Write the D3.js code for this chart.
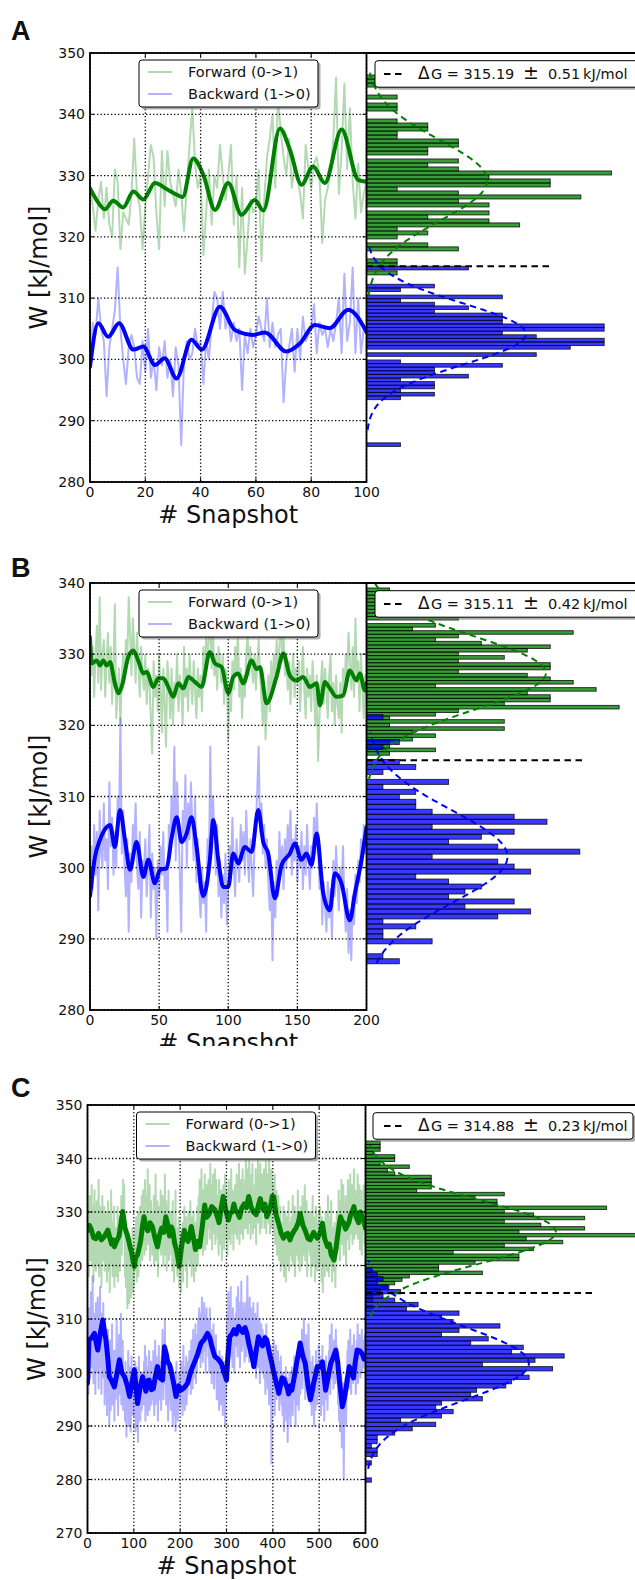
<!DOCTYPE html>
<html><head><meta charset="utf-8">
<script src="https://cdn.jsdelivr.net/npm/d3@7"></script>
<style>body{margin:0;background:#fff}svg{display:block}text{font-family:"DejaVu Sans",sans-serif;fill:#111}</style>
</head><body><svg id="c" width="635" height="1580"></svg>
<script>
// ---------- DATA ----------
const panelLetters = ["A","B","C"];
const dGValues = [315.19, 315.11, 314.88];
const dGText = ["315.19","315.11","314.88"];
const dGErr = ["0.51","0.42","0.23"];
const dGLineEnd = [0.0935, 0.0943, 0.081];   // density where the dashed ΔG line stops
const seriesNames = ["Forward (0->1)","Backward (1->0)"];

const xTicksA = [0,20,40,60,80,100];
const yTicksA = [280,290,300,310,320,330,340,350];
const xTicksB = [0,50,100,150,200];
const yTicksB = [280,290,300,310,320,330,340];
const xTicksC = [0,100,200,300,400,500,600];
const yTicksC = [270,280,290,300,310,320,330,340,350];

// raw work values, one per snapshot
const fwdA = [328,325,321,326,329,323,328,322,320,331, 329,318,324,323,322,327,336,327,325,318,
 325,330,335,333,324,318,334,325,334,329, 327,325,331,327,321,328,335,341,332,328,
 330,317,324,331,322,330,328,335,330,326, 330,335,322,330,315,328,314,320,326,324,
 325,331,316,326,333,336,340,328,343,337, 333,330,336,328,332,330,327,323,335,331,
 328,332,333,330,319,326,328,331,336,346, 327,334,345,331,341,329,323,332,324,327, 329];
const bwdA = [300,306,304,310,305,303,294,302,305,308, 315,305,300,296,302,304,302,297,296,303,
 298,305,297,300,295,302,299,303,297,300, 294,302,299,286,300,303,300,301,305,302,
 303,296,303,300,306,311,310,305,311,305, 307,303,306,303,305,295,304,301,305,302,
 304,307,305,303,310,302,306,302,304,305, 293,300,302,305,298,305,300,307,303,304,
 305,309,301,306,304,305,302,305,303,306, 310,301,314,303,306,315,301,310,301,305, 304];

const fwdB = [333,327,331,324,330,334,326,338,325,330, 332,324,329,333,326,331,323,329,337,321,
 325,328,320,327,330,326,332,329,338,333, 327,335,331,326,333,329,324,331,327,325,
 330,323,328,326,321,316,329,324,327,322, 330,325,319,328,323,317,329,326,321,328,
 320,326,324,330,322,327,325,320,331,324, 328,322,330,326,323,329,325,321,328,324,
 327,322,331,326,333,329,332,335,328,333, 327,330,325,331,329,326,330,323,328,326,
 318,326,322,329,325,331,327,334,324,328, 321,327,324,330,333,327,331,328,326,330,
 325,329,332,327,324,320,326,318,323,327, 322,329,325,330,327,332,328,331,335,329,
 333,327,330,325,329,323,327,330,324,328, 326,329,322,327,331,325,321,328,324,327,
 322,329,325,320,327,315,321,326,329,323, 328,325,321,327,330,322,326,320,327,323,
 321,326,319,328,324,330,327,333,329,325, 331,324,335,327,329,322,330,325,321,327, 326];
const bwdB = [295,303,297,306,299,305,294,308,302,300, 309,301,304,297,312,303,307,299,305,300,
 310,306,321,302,308,300,296,304,291,302, 298,306,303,309,300,297,305,293,301,299,
 304,296,300,306,293,302,297,300,290,301, 296,303,299,305,297,300,291,306,303,310,
 305,317,301,312,306,299,291,308,304,313, 300,309,304,312,306,301,310,298,304,297,
 293,300,295,298,291,304,299,317,302,310, 304,299,306,296,301,293,299,295,302,292,
 297,303,299,307,300,296,304,301,298,306, 301,305,299,308,302,298,304,300,296,303,
 306,311,317,305,309,302,306,300,304,298, 294,300,287,298,293,301,296,305,299,303,
 297,304,300,306,302,308,299,304,301,306, 298,303,300,305,297,303,299,306,301,297,
 303,300,307,302,309,303,297,301,292,298, 295,291,298,293,297,290,301,296,303,298,
 294,300,297,303,295,291,297,288,294,287, 296,292,299,295,301,298,304,300,306,302, 305];

const fwdC = [
 336,322,330,318,327,333,321,329,324,335,320,328,331,317,326,334,323,329,319,327,
 332,320,328,324,336,318,327,331,322,329,316,326,333,321,328,324,331,319,327,330,
 321,329,317,326,332,319,325,330,315,327,322,334,320,326,318,328,323,331,316,325,
 320,327,318,325,322,331,317,326,321,329,319,328,324,333,322,330,326,336,329,335,
 325,318,327,316,323,320,312,324,317,326,313,321,319,325,314,322,318,327,315,320,
 316,324,319,327,321,329,317,325,322,330,318,326,323,331,320,327,324,333,321,328,
 334,325,331,322,336,327,330,323,333,328,338,324,331,327,335,321,329,332,326,330,
 322,330,325,333,320,328,324,337,321,329,326,332,318,327,331,323,329,325,334,322,
 330,323,333,326,320,329,324,337,322,328,332,319,327,331,324,334,321,328,325,330,
 330,322,327,319,332,324,328,317,325,321,334,320,326,323,318,327,322,329,316,324,
 318,326,315,323,321,328,317,325,320,331,322,327,319,329,324,316,326,321,330,323,
 327,320,332,322,326,318,329,324,321,330,317,325,323,328,319,326,322,331,320,327,
 333,326,336,324,330,327,338,325,331,322,334,328,326,337,323,330,329,335,324,332,
 327,336,329,334,325,339,331,328,335,323,332,337,326,333,330,338,324,331,336,328,
 333,325,330,322,336,327,331,324,334,329,321,332,326,335,328,323,330,337,325,331,
 327,334,322,331,328,336,325,330,333,324,338,329,326,334,331,323,332,328,335,326,
 333,327,337,325,331,335,328,339,324,332,329,336,326,333,330,338,325,331,334,327,
 336,329,340,327,333,338,326,334,331,341,328,335,325,332,337,330,339,326,333,329,
 327,335,330,338,324,333,336,329,341,328,332,335,326,339,331,334,327,337,330,336,
 330,338,327,334,331,340,326,335,329,337,332,328,341,333,326,336,330,338,327,334,
 335,329,332,326,337,324,331,328,334,322,330,327,333,321,328,325,331,319,326,323,
 320,328,324,331,318,326,322,330,317,327,323,329,320,325,332,319,326,322,328,324,
 329,321,327,333,320,326,323,331,318,328,325,330,322,327,334,321,329,324,319,327,
 331,324,329,320,333,326,322,330,327,335,321,328,325,332,318,326,330,323,329,325,
 322,330,326,318,328,324,333,320,327,323,329,317,325,331,321,326,319,328,324,330,
 327,320,331,323,326,317,329,322,315,325,321,328,318,326,330,322,327,319,325,333,
 325,318,329,322,326,320,332,324,317,327,321,325,319,328,323,316,326,322,330,324,
 330,323,334,327,329,321,332,326,336,324,330,328,335,322,331,327,325,333,320,328,
 331,325,336,328,333,323,330,337,326,332,329,335,324,331,327,338,325,330,334,328,
 326,333,329,337,325,331,328,335,323,330,327,334,322,329,332,326,335,328,324,330, 327];
const bwdC = [
 300,309,296,312,303,307,299,315,304,310,301,318,306,298,311,303,308,296,313,305,
 309,300,314,304,297,310,306,316,301,308,296,311,305,299,313,302,307,294,310,303,
 296,305,292,301,308,295,303,290,300,306,293,302,298,309,294,301,297,304,291,300,
 304,295,302,310,297,305,292,301,307,296,303,299,311,294,302,298,306,293,300,297,
 299,291,302,295,288,300,293,297,304,290,298,294,301,289,296,303,292,299,295,300,
 292,299,295,302,289,297,301,293,298,287,296,303,294,299,291,297,300,293,298,295,
 300,294,302,296,305,291,298,303,295,299,292,301,297,304,293,298,296,302,294,299,
 301,295,304,298,292,300,306,294,299,303,296,301,291,298,305,295,300,297,302,293,
 303,297,308,300,295,305,299,310,298,302,294,300,296,303,291,298,301,295,299,296,
 293,299,295,301,290,297,294,300,292,298,289,296,302,294,298,291,297,293,300,295,
 299,294,302,296,300,292,298,305,295,299,293,301,297,303,294,300,296,302,298,301,
 304,298,302,296,306,300,303,297,308,301,299,305,302,309,298,304,300,307,303,310,
 306,312,303,309,301,311,305,314,307,302,310,306,313,304,309,300,308,312,305,310,
 310,303,307,300,312,305,301,308,298,304,306,301,309,297,303,305,300,307,302,295,
 298,302,295,300,293,304,297,301,294,299,296,303,292,300,297,295,302,290,298,296,
 300,308,311,304,315,307,302,310,305,316,303,309,306,301,312,304,308,300,310,306,
 311,305,314,308,303,316,309,306,313,301,310,307,317,304,311,308,305,313,309,302,
 310,306,313,303,309,318,305,311,307,302,314,308,304,312,306,310,301,309,313,305,
 308,302,311,305,299,309,304,313,301,307,303,310,298,306,302,309,305,300,308,303,
 305,299,307,302,296,304,309,300,303,297,306,301,294,302,298,305,300,283,296,301,
 303,297,306,300,292,302,298,305,295,301,299,304,296,300,293,302,297,303,299,294,
 297,292,300,295,289,298,293,296,301,291,295,299,287,294,297,292,300,295,290,296,
 294,301,297,292,300,296,303,295,299,290,298,302,294,300,297,305,293,299,301,296,
 299,305,301,308,297,304,302,310,300,306,295,303,307,301,298,305,303,309,300,304,
 296,302,294,300,292,298,303,295,301,290,297,299,293,304,296,300,294,302,298,305,
 301,296,303,298,292,300,297,305,294,299,302,291,298,301,295,303,297,300,293,299,
 298,304,300,307,296,303,301,309,299,305,302,297,306,300,304,298,308,301,305,303,
 300,294,298,291,296,289,297,293,300,286,295,292,298,280,291,296,293,299,290,297,
 298,304,300,306,297,302,299,308,301,296,303,300,305,298,302,307,299,304,301,296,
 300,306,302,309,298,304,301,307,303,299,305,302,308,300,304,306,301,305,303,307, 302];

// smoothed curves: [snapshot, W]
const smFwdA = [[0,327.9],[2.4,326.0],[5.4,324.5],[8.4,325.9],[12,324.8],[15.7,327.4],[19.3,326.1],[23.5,328.8],[27.7,327.8],[31.3,326.9],[33.5,326.5],[37.3,332.8],[41,330.1],[45.2,324.4],[50,328.8],[54.8,323.6],[59.6,326.0],[62.7,324.3],[68.7,337.7],[72.3,334.2],[76.5,328.5],[80.7,331.5],[84.9,328.8],[91,337.5],[97,329.3],[100,329.0]];
const smBwdA = [[0,298.8],[3,305.9],[6.6,303.7],[10.5,305.9],[15.7,301.6],[19.3,302.1],[23.5,299.1],[27,300.2],[31.3,296.9],[36.7,303.2],[40.4,301.6],[47,308.6],[52.4,304.8],[59,304.0],[63.3,304.4],[71,301.3],[75.9,302.6],[81.3,305.6],[86.7,305.1],[93.4,308.1],[100,304.5]];
const smFwdB = [[0,332.4],[1.2,328.7],[4.8,329.1],[7.2,328.4],[9.6,329.1],[12,328.4],[14.5,328.9],[18,325.9],[20.5,324.5],[22.9,325.4],[27.7,329.6],[31.3,330.5],[34.9,329.1],[38.6,327.3],[41,327.5],[45.8,325.4],[49.4,326.6],[53,326.6],[56.6,325.4],[60.2,324.0],[63.9,325.9],[67.5,325.2],[71.1,326.8],[75.9,326.1],[80.7,325.4],[86.7,330.3],[90.4,328.7],[95.2,328.2],[100,324.5],[103.6,326.8],[107.2,327.3],[110.8,325.9],[116.9,329.1],[120.5,327.9],[122.9,328.2],[127.7,323.1],[134.9,326.8],[139.8,330.1],[144.6,327.0],[149.4,326.3],[154.2,326.8],[159,325.4],[163.9,325.9],[166.3,322.8],[169.9,326.1],[173.5,325.2],[178.3,324.0],[183.1,324.2],[187.9,327.7],[192.8,326.3],[195.2,327.3],[198.8,324.9],[200,325.9]];
const smBwdB = [[0,296.0],[3.6,301.5],[7.2,303.9],[12,305.7],[14.5,306.0],[18,302.9],[21.7,308.1],[25.3,303.9],[28.9,299.7],[33.7,303.6],[38.6,298.7],[42.2,301.1],[47,297.8],[50.6,299.7],[55.4,299.9],[59,304.1],[62.7,307.1],[66.3,303.6],[69.9,304.8],[73.5,307.1],[77.1,302.9],[81.9,296.0],[86.7,301.1],[89.2,306.7],[92.8,301.1],[96.4,297.3],[100,297.3],[103.6,302.0],[107.2,300.6],[112,302.9],[116.9,302.2],[121.7,308.1],[125.3,303.6],[128.9,302.0],[133.7,295.7],[138.6,300.4],[144.6,302.0],[148.2,303.4],[153,301.1],[156.6,302.0],[160.2,300.4],[163.9,304.8],[168.7,296.4],[173.5,294.0],[177.1,299.2],[181.9,297.8],[187.9,292.6],[191.6,296.4],[196.4,301.1],[200,305.7]];
const smFwdC = [[0,326.5],[4,327.5],[8,326.8],[13,325.2],[18,325.0],[24,326.0],[30,324.8],[37,325.5],[44,326.6],[48,325.2],[52,324.0],[55,324.8],[58,323.5],[63,324.6],[68,325.5],[72,327.8],[76,330.1],[81,327.0],[87,325.4],[91,323.8],[95,322.5],[98,321.0],[101,319.8],[104,321.5],[108,322.0],[112,323.5],[115,324.8],[119,327.5],[122,329.1],[126,327.2],[130,326.5],[135,328.0],[140,327.3],[146,325.0],[151,323.5],[156,325.8],[160,327.0],[165,326.2],[169,329.1],[173,327.8],[177,325.5],[181,327.2],[184,326.6],[188,324.2],[192,323.0],[195,321.5],[198,319.8],[203,323.5],[209,326.6],[213,325.0],[217,324.5],[221,326.0],[224,327.3],[229,325.0],[233,323.0],[238,324.5],[242,323.5],[248,327.5],[253,331.3],[257,329.0],[262,329.5],[268,331.0],[275,330.4],[280,329.2],[284,328.0],[289,331.0],[293,332.9],[298,330.5],[304,328.5],[308,329.8],[312,330.0],[316,331.5],[319,330.4],[324,329.8],[328,329.0],[333,330.8],[338,331.5],[343,330.8],[348,332.9],[353,331.0],[358,330.0],[364,329.5],[369,331.3],[373,332.5],[378,330.5],[383,331.5],[387,329.1],[391,330.0],[395,331.0],[399,333.0],[402,332.9],[407,329.5],[412,328.0],[418,326.0],[423,325.1],[428,325.8],[432,326.0],[437,324.8],[441,325.7],[446,326.5],[450,327.0],[455,328.0],[459,329.7],[465,327.5],[470,326.5],[476,325.0],[481,324.8],[488,326.2],[496,325.1],[502,326.0],[507,327.9],[512,325.0],[518,323.5],[522,324.0],[526,322.0],[532,321.0],[536,323.0],[539,325.0],[543,327.5],[546,329.1],[550,328.2],[553,328.0],[557,326.8],[560,327.3],[564,328.0],[568,329.5],[572,330.2],[575,331.0],[580,329.0],[585,328.0],[589,330.0],[593,329.1],[597,328.0],[600,327.0]];
const smBwdC = [[0,298],[3,306],[9,306.5],[15,307.3],[19,305.5],[22,304.2],[28,307.5],[33,309.8],[37,307.5],[40,306],[44,302.5],[47,299.2],[52,298.5],[58,297.3],[63,299.5],[69,302.4],[74,300.0],[80,299.2],[86,297.5],[91,295.5],[96,298.2],[101,300.5],[105,297.0],[108,294.2],[113,297.0],[119,299.2],[122,298.0],[126,296.5],[130,298.5],[133,298.6],[138,296.8],[142,297],[147,299.5],[151,301.1],[156,299.0],[162,298.6],[166,304.8],[170,303.5],[173,302],[177,301.5],[180,300.5],[186,298.0],[191,295.5],[197,297.5],[202,296.7],[209,297.2],[216,298.0],[223,300.2],[230,301.7],[238,303.5],[245,305.5],[252,306.2],[259,307.3],[264,306.5],[268,305],[272,303.8],[275,303.0],[282,302.5],[289,301.7],[295,300.0],[300,298.6],[303,303.0],[307,306.7],[312,307.2],[316,308],[321,307.2],[326,308.6],[331,308.0],[335,307.5],[340,308.4],[344,307.3],[348,305.5],[352,304],[356,302.5],[359,301.1],[364,304.0],[369,306.7],[374,305.5],[378,305],[383,306.5],[387,306.1],[393,303.5],[398,301.7],[402,300.0],[405,299],[409,297.5],[413,296.1],[417,297.8],[420,299],[424,298.8],[427,298.0],[431,297.2],[434,296],[438,297.5],[441,296.7],[446,299.0],[450,301],[455,303.5],[459,305.5],[465,303.0],[470,301.7],[476,297.5],[481,294.9],[485,296.5],[488,298],[492,299.5],[496,301.1],[502,301.0],[507,302],[511,299.0],[514,296.7],[520,299.5],[525,301.7],[531,303.0],[536,304.2],[540,302.0],[543,299],[547,296.0],[550,293.6],[554,295.0],[558,297],[562,299.5],[565,301.1],[570,300.0],[574,299],[578,302.0],[582,304.2],[588,304.0],[593,303.5],[597,302.5],[600,303]];

// histogram counts (50 bins each, lowest bin first), bin start and width
const histFwdA = [1,0,1,1,0,0,3,2,0,1, 2,1,5,4,2,4,0,4,3,7, 3,1,6,6,4,8,3,2,3,0, 2,2,3,3,1,1,2,2,1,0, 0,1,1,0,1,0,0,1,1,1];
const histBwdA = [1,0,0,0,0,0,0,0,0,0, 0,0,0,1,2,1,2,2,1,3, 2,2,4,1,0,5,0,6,7,7, 5,4,7,7,4,4,4,2,3,2, 1,4,0,1,2,0,0,0,0,3];
const histFwdB = [0,0,0,1,3,1,1,2,3,2, 6,1,6,1,3,4,11,6,8,8, 7,10,3,9,8,7,4,8,8,4, 6,4,7,8,5,3,4,9,2,3, 0,4,2,1,2,1,1,1,1,1];
const histBwdB = [2,1,0,0,4,1,1,3,1,8, 10,6,9,5,6,7,5,3,10,9, 8,4,13,8,5,7,9,4,11,9, 4,3,3,2,3,1,5,0,1,3, 2,0,0,1,2,0,0,0,0,1];
const histFwdC = [0,1,0,1,1,2,2,3,4,5, 6,16,10,10,15,21,21,12,23,19, 27,22,37,21,30,24,19,30,23,19, 33,18,18,15,19,7,9,9,9,9, 4,3,6,2,4,4,1,2,2,2];
const histBwdC = [1,0,0,0,1,0,2,2,1,2, 2,5,8,12,6,13,15,12,13,20, 18,19,24,25,28,27,32,20,29,34, 25,27,18,21,13,16,23,15,13,16, 7,9,5,3,6,4,2,3,2,1];
const binStart = {fA:313.8, bA:285.8, fB:314.3, bB:286.5, fC:311.27, bC:279.5};
const binWidth = {fA:0.652, bA:0.588, fB:0.5, bB:0.7, fC:0.64, bC:0.8};

// Gaussian fits: [mean, sd, drawn from, drawn to]
const gaussFwdA = [329.2, 6.6, 310.5, 347.5];
const gaussBwdA = [304.15, 5.0, 288.5, 318.5];
const gaussFwdB = [327.35, 5.11, 312.3, 340];
const gaussBwdB = [301.55, 6.5, 286.6, 319];
const gaussFwdC = [326.3, 5.88, 310.4, 342.5];
const gaussBwdC = [301.7, 6.85, 282, 321];

// ---------- LAYOUT ----------
const svg = d3.select("#c");
const GREEN = "#008000", BLUE = "#0000ff";
const panels = [
 {i:0, top:53, bottom:482, left:90, split:366.5, right:646, xMax:0.14, xDom:[0,100], yDom:[280,350], xt:xTicksA, yt:yTicksA,
  raw:[fwdA,bwdA], sm:[smFwdA,smBwdA], hist:[[histFwdA,binStart.fA,binWidth.fA],[histBwdA,binStart.bA,binWidth.bA]], gs:[gaussFwdA,gaussBwdA],
  rawW:2, smW:4, letterY:40, lgX2:375, lgW:275, xlabClip:null},
 {i:1, top:583, bottom:1010, left:90, split:366.5, right:646, xMax:0.1217, xDom:[0,200], yDom:[280,340], xt:xTicksB, yt:yTicksB,
  raw:[fwdB,bwdB], sm:[smFwdB,smBwdB], hist:[[histFwdB,binStart.fB,binWidth.fB],[histBwdB,binStart.bB,binWidth.bB]], gs:[gaussFwdB,gaussBwdB],
  rawW:2, smW:4, letterY:577, lgX2:375, lgW:275, xlabClip:1046},
 {i:2, top:1105, bottom:1533, left:87.5, split:365.5, right:646, xMax:0.1, xDom:[0,600], yDom:[270,350], xt:xTicksC, yt:yTicksC,
  raw:[fwdC,bwdC], sm:[smFwdC,smBwdC], hist:[[histFwdC,binStart.fC,binWidth.fC],[histBwdC,binStart.bC,binWidth.bC]], gs:[gaussFwdC,gaussBwdC],
  rawW:2, smW:5, letterY:1097, lgX2:373, lgW:260, xlabClip:null}
];
const N = [100, 200, 600];

panels.forEach(p => {
  const g = svg.append("g");
  const x = d3.scaleLinear().domain(p.xDom).range([p.left, p.split]);
  const y = d3.scaleLinear().domain(p.yDom).range([p.bottom, p.top]);
  const hx = d3.scaleLinear().domain([0, p.xMax]).range([p.split, p.right]);
  const cid = "clip" + p.i;
  svg.append("clipPath").attr("id", cid).append("rect")
    .attr("x", p.left).attr("y", p.top).attr("width", p.split - p.left).attr("height", p.bottom - p.top);
  const plot = g.append("g").attr("clip-path", `url(#${cid})`);

  // raw lines
  const rawLine = d3.line().x((d, i) => x(i)).y(d => y(d));
  [GREEN, BLUE].forEach((c, k) => {
    plot.append("path").datum(p.raw[k]).attr("d", rawLine).attr("fill", "none")
      .attr("stroke", c).attr("stroke-opacity", 0.3).attr("stroke-width", p.rawW).attr("stroke-linejoin", "round");
  });
  // grid
  const grid = g.append("g").attr("stroke", "#000").attr("stroke-width", 1.3).attr("stroke-dasharray", "1.3,2.2");
  p.xt.forEach(t => grid.append("line").attr("x1", x(t)).attr("x2", x(t)).attr("y1", p.top).attr("y2", p.bottom));
  p.yt.forEach(t => grid.append("line").attr("x1", p.left).attr("x2", p.split).attr("y1", y(t)).attr("y2", y(t)));
  // smoothed lines
  const smLine = d3.line().x(d => x(d[0])).y(d => y(d[1])).curve(p.i === 2 ? d3.curveLinear : d3.curveMonotoneX);
  [GREEN, BLUE].forEach((c, k) => {
    plot.append("path").datum(p.sm[k]).attr("d", smLine).attr("fill", "none")
      .attr("stroke", c).attr("stroke-width", p.smW).attr("stroke-linejoin", "round").attr("stroke-linecap", "round");
  });

  // histograms
  const hg = g.append("g");
  [GREEN, BLUE].forEach((c, k) => {
    const [counts, lo, bw] = p.hist[k];
    counts.forEach((n, j) => {
      if (!n) return;
      const dens = n / (N[p.i] * bw);
      hg.append("rect").attr("x", hx(0)).attr("y", y(lo + (j + 1) * bw))
        .attr("width", hx(dens) - hx(0)).attr("height", y(lo + j * bw) - y(lo + (j + 1) * bw))
        .attr("fill", c).attr("fill-opacity", 0.78).attr("stroke", "#000").attr("stroke-opacity", 0.75).attr("stroke-width", 1);
    });
  });
  // gaussian fits
  [GREEN, BLUE].forEach((c, k) => {
    const [mu, sd, a, b] = p.gs[k];
    const vals = d3.range(a, b + 0.001, 0.1);
    const gl = d3.line().x(v => hx(Math.exp(-0.5 * ((v - mu) / sd) ** 2) / (sd * Math.sqrt(2 * Math.PI)))).y(v => y(v));
    hg.append("path").datum(vals).attr("d", gl).attr("fill", "none").attr("stroke", c)
      .attr("stroke-width", 2).attr("stroke-dasharray", "6.5,4.5");
  });
  // ΔG line
  hg.append("line").attr("x1", hx(0)).attr("x2", hx(dGLineEnd[p.i])).attr("y1", y(dGValues[p.i])).attr("y2", y(dGValues[p.i]))
    .attr("stroke", "#000").attr("stroke-width", 2).attr("stroke-dasharray", "6.5,4.5");

  // spines
  const sp = g.append("g").attr("stroke", "#000").attr("stroke-width", 1.8).attr("fill", "none");
  sp.append("rect").attr("x", p.left).attr("y", p.top).attr("width", p.split - p.left).attr("height", p.bottom - p.top);
  sp.append("line").attr("x1", p.split).attr("x2", p.right).attr("y1", p.top).attr("y2", p.top);
  // inward ticks
  const tk = g.append("g").attr("stroke", "#000").attr("stroke-width", 1);
  p.yt.forEach(t => {
    tk.append("line").attr("x1", p.left).attr("x2", p.left + 4).attr("y1", y(t)).attr("y2", y(t));
    tk.append("line").attr("x1", p.split - 4).attr("x2", p.split).attr("y1", y(t)).attr("y2", y(t));
  });
  p.xt.forEach(t => {
    tk.append("line").attr("x1", x(t)).attr("x2", x(t)).attr("y1", p.bottom).attr("y2", p.bottom - 4);
    tk.append("line").attr("x1", x(t)).attr("x2", x(t)).attr("y1", p.top).attr("y2", p.top + 4);
  });
  // tick labels
  p.yt.forEach(t => g.append("text").attr("x", p.left - 5).attr("y", y(t)).attr("dy", "0.36em")
    .attr("text-anchor", "end").attr("font-size", 14).text(t));
  p.xt.forEach(t => g.append("text").attr("x", x(t)).attr("y", p.bottom + 15)
    .attr("text-anchor", "middle").attr("font-size", 14).text(t));
  // axis labels
  const xl = g.append("text").attr("x", (p.left + p.split) / 2).attr("y", p.bottom + 41)
    .attr("text-anchor", "middle").attr("font-size", 24).text("# Snapshot");
  if (p.xlabClip) {
    const xc = "xlc" + p.i;
    svg.append("clipPath").attr("id", xc).append("rect").attr("x", 0).attr("y", p.bottom).attr("width", 635).attr("height", p.xlabClip - p.bottom);
    xl.attr("clip-path", `url(#${xc})`);
  }
  g.append("text").attr("transform", `translate(${p.left - 43},${(p.top + p.bottom) / 2}) rotate(-90)`)
    .attr("text-anchor", "middle").attr("font-size", 24).text("W [kJ/mol]");
  // panel letter
  g.append("text").attr("x", 11).attr("y", p.letterY)
    .attr("font-weight", "bold").attr("font-size", 27).style("font-family", "'Liberation Sans',Arial,sans-serif").text(panelLetters[p.i]);

  // left legend
  const lx = p.left + 49, ly = p.top + 7;
  g.append("rect").attr("x", lx + 2.5).attr("y", ly + 2.5).attr("width", 179).attr("height", 47).attr("rx", 3).attr("fill", "#777").attr("fill-opacity", 0.6);
  g.append("rect").attr("x", lx).attr("y", ly).attr("width", 179).attr("height", 47).attr("rx", 3).attr("fill", "#fff").attr("stroke", "#000").attr("stroke-width", 1);
  [GREEN, BLUE].forEach((c, k) => {
    const yy = ly + 12 + k * 22;
    g.append("line").attr("x1", lx + 9).attr("x2", lx + 33).attr("y1", yy).attr("y2", yy)
      .attr("stroke", c).attr("stroke-opacity", 0.3).attr("stroke-width", 2);
    g.append("text").attr("x", lx + 49).attr("y", yy + 5).attr("font-size", 14.5).text(seriesNames[k]);
  });

  // right legend
  const rx = p.lgX2, ry = p.top + 7.7, rh = 26.5;
  g.append("rect").attr("x", rx + 2.5).attr("y", ry + 2.5).attr("width", p.lgW).attr("height", rh).attr("rx", 3).attr("fill", "#777").attr("fill-opacity", 0.6);
  g.append("rect").attr("x", rx).attr("y", ry).attr("width", p.lgW).attr("height", rh).attr("rx", 3).attr("fill", "#fff").attr("stroke", "#000").attr("stroke-width", 1);
  const cy = ry + rh / 2;
  g.append("line").attr("x1", 384).attr("x2", 405).attr("y1", cy).attr("y2", cy).attr("stroke", "#000").attr("stroke-width", 2).attr("stroke-dasharray", "6.5,4.5");
  const t = g.append("text").attr("y", cy + 5.5).attr("font-size", 14.5);
  t.append("tspan").attr("x", 418).attr("font-size", 17).text("Δ");
  t.append("tspan").attr("x", 431).text("G = " + dGText[p.i]);
  t.append("tspan").attr("x", 523).attr("font-size", 19).text("±");
  t.append("tspan").attr("x", 548).text(dGErr[p.i]);
  t.append("tspan").attr("x", 583).text("kJ/mol");
});
</script></body></html>
